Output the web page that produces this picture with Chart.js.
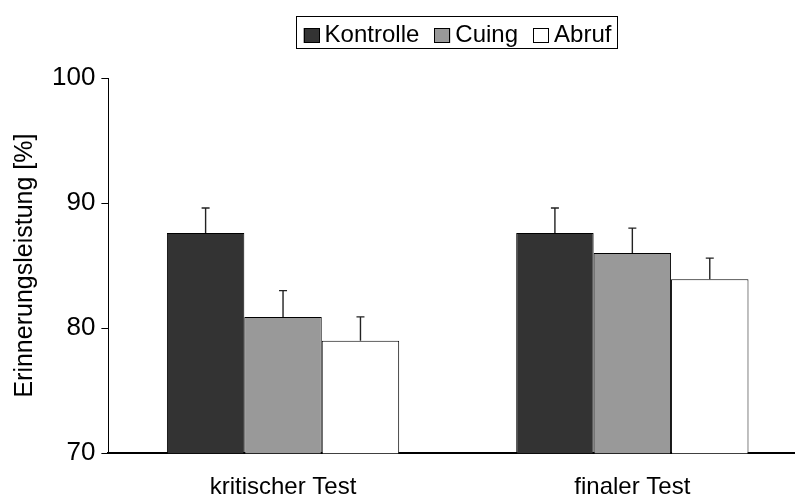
<!DOCTYPE html>
<html>
<head>
<meta charset="utf-8">
<script src="https://cdn.jsdelivr.net/npm/chart.js@4"></script>
<style>
  html, body { margin: 0; padding: 0; background: #fff; overflow: hidden; }
  #wrap { width: 795px; height: 500px; overflow: hidden; }
  canvas { display: block; }
</style>
</head>
<body>
<div id="wrap"><canvas id="c" width="807" height="500"></canvas></div>
<script>
var CATEGORIES = ['kritischer Test', 'finaler Test'];
var SERIES_NAMES = ['Kontrolle', 'Cuing', 'Abruf'];
var KONTROLLE = [87.6, 87.6];
var CUING = [80.9, 86.0];
var ABRUF = [79.0, 83.9];
// obere Enden der Fehlerbalken
var KONTROLLE_ERR = [89.6, 89.6];
var CUING_ERR = [83.0, 88.0];
var ABRUF_ERR = [80.9, 85.6];
var Y_TICKS = [70, 80, 90, 100];
var COLORS = ['#333333', '#999999', '#ffffff'];

var FONT = 'Arial, "Liberation Sans", sans-serif';

// Fehlerbalken nur nach oben
var errorBars = {
  id: 'errorBars',
  afterDatasetsDraw: function(chart) {
    var ctx = chart.ctx;
    var y = chart.scales.y;
    var errs = [KONTROLLE_ERR, CUING_ERR, ABRUF_ERR];
    ctx.save();
    ctx.strokeStyle = '#222';
    ctx.lineWidth = 1.4;
    for (var d = 0; d < chart.data.datasets.length; d++) {
      var meta = chart.getDatasetMeta(d);
      for (var i = 0; i < meta.data.length; i++) {
        var bar = meta.data[i];
        var top = y.getPixelForValue(errs[d][i]);
        ctx.beginPath();
        ctx.moveTo(bar.x, bar.y);
        ctx.lineTo(bar.x, top);
        ctx.moveTo(bar.x - 4, top);
        ctx.lineTo(bar.x + 4, top);
        ctx.stroke();
      }
    }
    ctx.restore();
  }
};

// Legende mit Rahmen, von Hand gezeichnet
var boxLegend = {
  id: 'boxLegend',
  afterDraw: function(chart) {
    var ctx = chart.ctx;
    var sets = chart.data.datasets;
    ctx.save();
    ctx.font = '24px ' + FONT;
    ctx.textBaseline = 'middle';
    var total = 0;
    for (var i = 0; i < sets.length; i++) {
      total += 16 + 5 + ctx.measureText(sets[i].label).width;
      if (i < sets.length - 1) total += 15;
    }
    var x = 457.5 - total / 2;
    ctx.strokeStyle = '#000';
    ctx.lineWidth = 1;
    ctx.strokeRect(Math.round(x - 8) + 0.5, 16.5, Math.round(total + 13), 32);
    for (var j = 0; j < sets.length; j++) {
      ctx.fillStyle = sets[j].backgroundColor;
      ctx.fillRect(x, 28, 16, 15);
      ctx.strokeRect(Math.round(x) + 0.5, 28.5, 15, 14);
      x += 16 + 5;
      ctx.fillStyle = '#000';
      ctx.fillText(sets[j].label, x, 35);
      x += ctx.measureText(sets[j].label).width + 15;
    }
    ctx.restore();
  }
};

var ds = [KONTROLLE, CUING, ABRUF];
var datasets = [];
for (var k = 0; k < ds.length; k++) {
  datasets.push({
    label: SERIES_NAMES[k],
    data: ds[k],
    backgroundColor: COLORS[k],
    borderColor: '#000',
    borderWidth: 1,
    categoryPercentage: 0.665,
    barPercentage: 1.0
  });
}

new Chart(document.getElementById('c'), {
  type: 'bar',
  data: { labels: CATEGORIES, datasets: datasets },
  options: {
    responsive: false,
    animation: false,
    layout: { padding: { top: 78, right: 0, bottom: -22, left: 4 } },
    plugins: {
      legend: { display: false },
      tooltip: { enabled: false }
    },
    scales: {
      x: {
        grid: { display: false, drawTicks: false },
        border: { color: '#000', width: 2 },
        ticks: { color: '#000', font: { family: FONT, size: 24 }, padding: 20 }
      },
      y: {
        min: 70,
        max: 100,
        afterBuildTicks: function(scale) {
          scale.ticks = Y_TICKS.map(function(v) { return { value: v }; });
        },
        grid: { drawOnChartArea: false, tickLength: 7, color: '#000' },
        border: { color: '#000', width: 1 },
        title: { display: true, text: 'Erinnerungsleistung [%]', color: '#000', font: { family: FONT, size: 25 }, padding: 6 },
        ticks: { color: '#000', font: { family: FONT, size: 26 }, padding: 6 }
      }
    }
  },
  plugins: [errorBars, boxLegend]
});
</script>
</body>
</html>
